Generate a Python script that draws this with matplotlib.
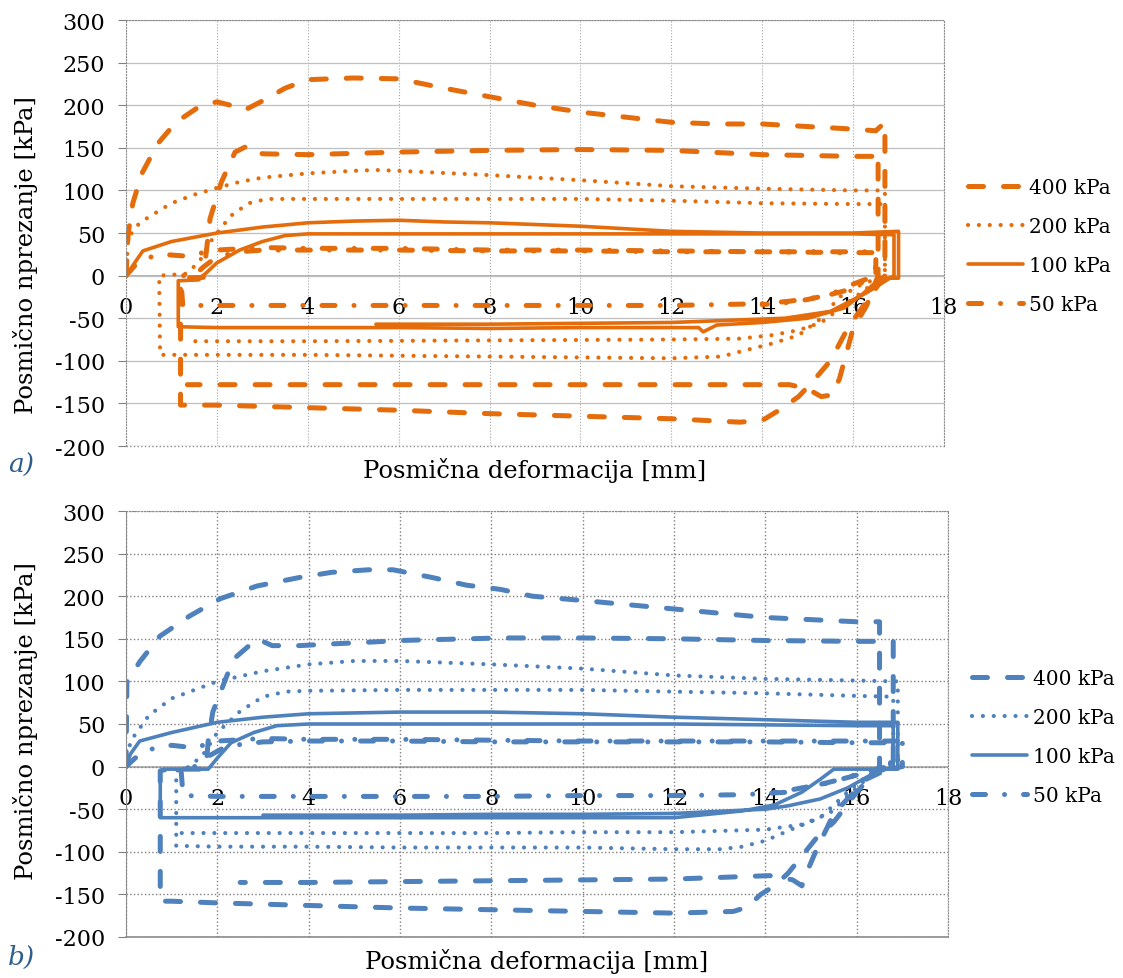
import numpy as np
import matplotlib
matplotlib.use("Agg")
import matplotlib.pyplot as plt

plt.rcParams["font.family"] = ["DejaVu Serif"]

ORANGE = "#E46C0A"
BLUE = "#4F81BD"
LABEL_COLOR = "#2E5E8E"

series_names = ["400 kPa", "200 kPa", "100 kPa", "50 kPa"]
x_ticks = [0, 2, 4, 6, 8, 10, 12, 14, 16, 18]
y_ticks = [-200, -150, -100, -50, 0, 50, 100, 150, 200, 250, 300]

# ---- a) panel ----
a_400_x = [0, 0.05, 0.15, 0.35, 0.7, 1.1, 1.6, 2.0, 2.3, 2.6, 3.0, 3.5, 4.0, 5.0, 6.0, 7.0, 8.0, 9.0,
           10.0, 11.0, 12.0, 13.0, 14.0, 15.0, 16.0, 16.5, 16.7, 16.7, 16.3, 15.9, 15.5, 15.1, 14.8,
           14.4, 14.0, 13.5, 12.0, 10.0, 8.0, 6.0, 4.0, 2.0, 1.2, 1.2, 1.2, 1.7, 1.75, 1.85, 2.1, 2.4,
           2.7, 3.0, 4.0, 6.0, 8.0, 10.0, 12.0, 14.0, 16.0, 16.45, 16.55, 16.55, 16.3, 16.0, 15.7, 15.55,
           15.3, 15.0, 14.6, 14.0, 12.0, 10.0, 8.0, 6.0, 4.0, 2.0, 1.35]
a_400_y = [0, 50, 85, 120, 155, 180, 198, 204, 200, 194, 205, 220, 230, 232, 231, 220, 210, 200,
           192, 186, 180, 178, 178, 175, 172, 170, 180, 0, -30, -60, -100, -125, -142,
           -157, -170, -172, -168, -165, -162, -158, -155, -152, -152, -60, -3, -2, 20, 67, 110, 145,
           153, 143, 142, 145, 147, 148, 147, 142, 140, 140, 145, 0, -35, -62, -121, -140,
           -142, -133, -128, -128, -128, -128, -128, -128, -128, -128, -128]

a_200_x = [0, 0.05, 0.3, 0.6, 1.0, 1.5, 2.0, 2.5, 3.0, 4.0, 5.0, 5.5, 6.0, 8.0, 10.0, 12.0, 14.0, 16.0,
           16.7, 16.7, 16.2, 15.7, 15.3, 14.8, 14.2, 13.6, 13.1, 12.0, 10.0, 8.0, 6.0, 4.0, 2.0, 0.75,
           0.73, 1.3, 1.6, 1.9, 2.3, 2.7, 3.1, 4.0, 6.0, 8.0, 10.0, 12.0, 14.0, 16.0, 16.7, 16.7, 16.3,
           15.8, 15.3, 14.8, 14.2, 13.5, 12.0, 8.0, 4.0, 1.35]
a_200_y = [0, 45, 62, 72, 85, 95, 103, 110, 115, 120, 123, 124, 123, 118, 112, 105, 102, 100,
           100, 0, -10, -25, -50, -70, -80, -88, -95, -97, -96, -95, -94, -93, -93, -93,
           0, 2, 15, 43, 70, 85, 90, 90, 90, 90, 90, 88, 85, 84, 84, 0, -15,
           -35, -55, -64, -70, -74, -75, -76, -77, -77]

a_100_x = [0, 0.37, 1.0, 2.0, 3.0, 4.0, 5.0, 6.0, 7.0, 8.0, 10.0, 12.0, 14.0, 16.0, 17.0, 17.0, 16.6,
           16.2, 15.8, 15.0, 14.0, 13.0, 12.7, 12.6, 12.0, 10.0, 8.0, 6.0, 4.0, 2.0, 1.15, 1.15, 1.6,
           1.8, 2.0, 2.5, 3.0, 3.5, 4.0, 6.0, 8.0, 10.0, 12.0, 14.0, 16.0, 16.9, 16.9, 16.3, 15.5,
           14.5, 13.0, 12.0, 10.0, 8.0, 5.5]
a_100_y = [0, 29, 40, 50, 57, 62, 64, 65, 63, 62, 58, 52, 50, 50, 52, -3, -3,
           -22, -38, -50, -55, -58, -66, -61, -61, -61, -62, -61, -61, -61, -60, -6, -5,
           5, 15, 30, 40, 47, 49, 49, 49, 49, 49, 49, 49, 48, 0, -20, -42,
           -50, -53, -55, -56, -57, -57]

a_50_x = [0, 0.2, 0.4, 0.8, 1.3, 2.0, 3.0, 4.0, 6.0, 8.0, 10.0, 12.0, 14.0, 16.0, 16.5, 16.5, 16.2,
          15.8, 15.3, 14.6, 14.0, 12.0, 10.0, 8.0, 6.0, 4.0, 2.0, 1.25, 1.2, 1.5, 1.7, 2.0, 2.5, 3.0,
          4.0, 6.0, 8.0, 10.0, 12.0, 14.0, 16.0, 16.5, 16.5, 16.0, 15.5, 15.0, 14.5, 14.0]
a_50_y = [0, 12, 20, 25, 23, 30, 33, 32, 32, 30, 30, 29, 28, 28, 28, 0, -8,
          -18, -25, -30, -33, -35, -35, -35, -35, -35, -35, -35, 0, 0, 10, 22, 28, 30,
          30, 30, 29, 29, 28, 28, 27, 27, 0, -10, -22, -28, -32, -34]

# ---- b) panel ----
b_400_x = [0, 0.02, 0.3, 0.74, 1.4, 2.06, 2.87, 3.8, 4.5, 5.3, 5.85, 6.7, 7.45, 8.2, 8.9, 10.0, 12.0,
           14.0, 16.0, 16.5, 16.5, 16.0, 15.5, 15.1, 14.8, 14.5, 14.2, 13.9, 13.6, 13.3, 12.0, 10.0,
           8.0, 6.0, 4.0, 2.0, 1.0, 0.75, 0.75, 0.9, 1.75, 1.8, 1.9, 2.35, 2.87, 3.2, 3.8, 4.5, 5.3,
           6.0, 6.7, 7.5, 8.2, 10.0, 12.0, 14.0, 16.0, 16.8, 16.8, 16.2, 15.5, 15.1, 14.9, 14.8,
           14.6, 14.1, 12.0, 10.0, 8.0, 6.0, 4.0, 2.5]
b_400_y = [0, 99, 123, 153, 177, 197, 212, 222, 228, 231, 231, 222, 213, 208, 200, 195, 185,
           175, 170, 170, 0, -30, -65, -85, -105, -125, -140, -150, -165, -170, -172, -170,
           -168, -166, -163, -160, -158, -158, -5, -3, -3, 30, 64, 126, 150, 142, 142, 144, 146,
           148, 149, 150, 151, 151, 150, 148, 147, 147, 0, -15, -55, -100, -125, -140,
           -133, -128, -132, -133, -134, -135, -136, -136]

b_200_x = [0, 0.1, 0.5, 1.0, 2.0, 3.0, 4.0, 5.0, 6.0, 8.0, 10.0, 12.0, 14.0, 16.0, 16.9, 16.9, 16.4,
           16.0, 15.6, 15.2, 14.6, 14.0, 13.5, 13.0, 12.0, 10.0, 8.0, 6.0, 4.0, 2.0, 1.1, 1.1, 1.4,
           1.7, 2.0, 2.5, 3.0, 3.5, 4.0, 6.0, 8.0, 10.0, 12.0, 14.0, 16.0, 16.8, 16.8, 16.3, 15.9,
           15.4, 14.8, 14.0, 12.0, 10.0, 8.0, 4.0, 1.1]
b_200_y = [0, 30, 60, 80, 100, 112, 120, 124, 124, 120, 115, 107, 103, 101, 100, 10, -5,
           -20, -40, -60, -73, -87, -94, -97, -97, -95, -95, -95, -94, -94, -93, -5, 0,
           15, 40, 65, 82, 88, 89, 90, 90, 90, 88, 86, 83, 82, 5, -10, -30,
           -55, -68, -74, -77, -77, -78, -78, -78]

b_100_x = [0, 0.1, 0.3, 1.0, 2.0, 3.0, 4.0, 6.0, 8.0, 10.0, 12.0, 14.0, 16.0, 16.9, 16.9, 15.5, 15.2,
           14.8, 14.2, 13.5, 12.0, 10.0, 8.0, 6.0, 4.0, 2.0, 0.75, 0.75, 0.9, 1.8, 2.0, 2.3, 2.8, 3.3,
           4.0, 6.0, 8.0, 10.0, 12.0, 14.0, 16.0, 16.8, 16.8, 16.3, 15.8, 15.2, 14.5, 14.0, 12.0,
           10.0, 8.0, 6.0, 4.0, 3.0]
b_100_y = [0, 15, 30, 40, 52, 58, 62, 64, 64, 62, 58, 55, 52, 52, -3, -3, -15,
           -30, -45, -52, -60, -60, -60, -60, -60, -60, -60, -5, -3, -3, 10, 28, 40, 48,
           50, 50, 50, 50, 50, 49, 48, 48, 0, -10, -25, -38, -46, -50, -55,
           -56, -56, -57, -57, -57]

b_50_x = [0, 0.2, 0.5, 1.0, 1.5, 2.0, 3.0, 4.0, 6.0, 8.0, 10.0, 12.0, 14.0, 16.0, 16.9, 16.9, 16.3,
          15.5, 14.5, 13.5, 12.0, 10.0, 8.0, 6.0, 4.0, 2.0, 1.25, 1.2, 1.5, 1.8, 2.2, 3.0, 4.0, 6.0,
          8.0, 10.0, 12.0, 14.0, 16.0, 17.0, 17.0, 16.5, 16.0, 15.3, 14.5, 14.0]
b_50_y = [0, 10, 20, 25, 22, 30, 33, 32, 32, 31, 30, 30, 30, 30, 30, 3, -5,
          -17, -30, -33, -34, -34, -35, -35, -35, -35, -34, 0, 0, 12, 24, 29, 30, 30,
          29, 29, 29, 29, 28, 28, 0, -5, -10, -20, -28, -31]

styles = [
    dict(lw=3.6, ls=(0, (3, 4)), dash_capstyle="round"),
    dict(lw=3.0, ls=(0, (0.01, 2.6)), dash_capstyle="round"),
    dict(lw=2.6, ls="-", solid_capstyle="round"),
    dict(lw=3.6, ls=(0, (2.6, 3.8, 0.01, 3.8)), dash_capstyle="round"),
]

fig = plt.figure(figsize=(11.23, 9.79), dpi=100)
ax_a = fig.add_axes([0.1122, 0.5434, 0.7284, 0.4351])
ax_b = fig.add_axes([0.1122, 0.0419, 0.732, 0.4351])

panels = [
    (ax_a, ORANGE, [(a_400_x, a_400_y), (a_200_x, a_200_y), (a_100_x, a_100_y), (a_50_x, a_50_y)], "a)", 0.45),
    (ax_b, BLUE, [(b_400_x, b_400_y), (b_200_x, b_200_y), (b_100_x, b_100_y), (b_50_x, b_50_y)], "b)", 0.51),
]

for ax, color, data, tag, ylab_pos in panels:
    for (xs, ys), name, st in zip(data, series_names, styles):
        ax.plot(xs, ys, color=color, label=name, **st)

    ax.set_xlim(0, 18)
    ax.set_ylim(-200, 300)
    ax.set_xticks(x_ticks)
    ax.set_yticks(y_ticks)
    ax.set_xticklabels([str(t) for t in x_ticks])
    ax.set_yticklabels([str(t) for t in y_ticks])

    # x tick labels sit on the zero line
    ax.spines["bottom"].set_position(("data", 0))
    ax.spines["bottom"].set_visible(False)
    ax.tick_params(axis="x", length=0, pad=15, labelsize=16)
    ax.tick_params(axis="y", length=6, width=0.8, color="#808080", direction="out", pad=9,
                   labelsize=16)

    if tag == "a)":
        ax.grid(axis="y", color="#BFBFBF", lw=0.9, ls="-")
        ax.grid(axis="x", color="#A6A6A6", lw=0.8, ls=":")
        edge = dict(color="#8C8C8C", lw=1.0, ls=":")
    else:
        ax.grid(color="#7F7F7F", lw=1.0, ls=":")
        edge = dict(color="#8C8C8C", lw=1.2, ls="-")
    ax.set_axisbelow(True)
    ax.axhline(-200, **edge, clip_on=False, zorder=0.5)
    ax.axhline(0, color="#A6A6A6", lw=1.2, zorder=0.5)
    for side in ["top", "right"]:
        ax.spines[side].set_color("#8C8C8C")
        ax.spines[side].set_linestyle(":")
    ax.spines["left"].set_color("#8C8C8C")
    ax.spines["left"].set_linestyle(edge["ls"])

    ax.set_ylabel("Posmično nprezanje [kPa]", fontsize=17.5)
    ax.yaxis.set_label_coords(-0.107, ylab_pos)
    ax.set_xlabel("Posmična deformacija [mm]", fontsize=17.5)
    ax.xaxis.set_label_coords(0.5, -0.025)

    ax.legend(loc="center left", bbox_to_anchor=(1.0, 0.47), frameon=False, fontsize=14.5,
              handlelength=2.7, handletextpad=0.3, labelspacing=1.0, borderaxespad=0.8)

fig.text(0.007, 0.525, "a)", fontsize=19, style="italic", color=LABEL_COLOR, va="center")
fig.text(0.007, 0.022, "b)", fontsize=19, style="italic", color=LABEL_COLOR, va="center")

fig.savefig("out.png", dpi=100)
